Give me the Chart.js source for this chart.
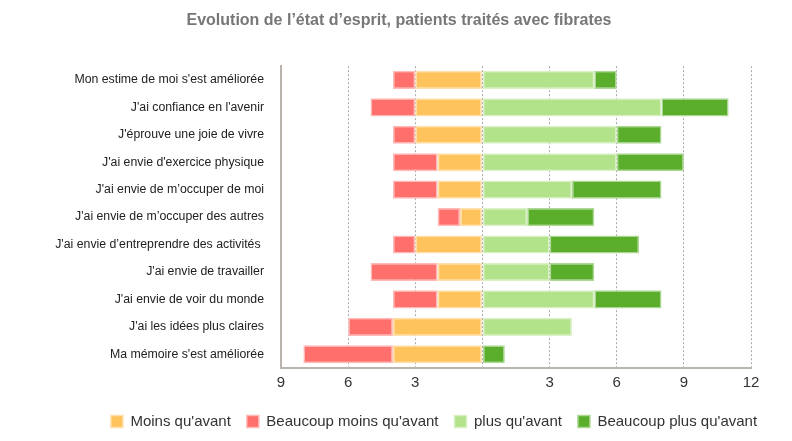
<!DOCTYPE html>
<html>
<head>
<meta charset="utf-8">
<script src="https://cdn.jsdelivr.net/npm/chart.js@4.4.1/dist/chart.umd.min.js"></script>
<style>
  html, body { margin: 0; padding: 0; background: #fff; }
  #wrap { width: 792px; height: 441px; }
</style>
</head>
<body>
<div id="wrap"><canvas id="moodChart" width="792" height="441"></canvas></div>
<script>
// Categories (top to bottom)
const labels = [
    "Mon estime de moi s'est améliorée",
    "J'ai confiance en l'avenir",
    "J'éprouve une joie de vivre",
    "J'ai envie d'exercice physique",
    "J'ai envie de m’occuper de moi",
    "J'ai envie de m’occuper des autres",
    "J'ai envie d’entreprendre des activités ",
    "J'ai envie de travailler",
    "J'ai envie de voir du monde",
    "J'ai les idées plus claires",
    "Ma mémoire s'est améliorée"
];

// Number of patients per answer (negative side drawn to the left)
const moinsQuAvant = [-3, -3, -3, -2, -2, -1, -3, -2, -2, -4, -4];
const beaucoupMoins = [-1, -2, -1, -2, -2, -1, -1, -3, -2, -2, -4];
const plusQuAvant = [5, 8, 6, 6, 4, 2, 3, 3, 5, 4, 0];
const beaucoupPlus = [1, 3, 2, 3, 4, 3, 4, 2, 3, 0, 1];

// x axis
const xMin = -9;
const xMax = 12;
const xStep = 3;

document.addEventListener("DOMContentLoaded", function () {
    if (typeof Chart === "undefined") {
        console.error("Chart.js is not loaded!");
        return;
    }

    const ctx = document.getElementById("moodChart").getContext("2d");
    const font = "'Liberation Sans', Arial, Helvetica, sans-serif";

    function series(label, data, color, border) {
        return {
            label: label,
            data: data,
            backgroundColor: color,
            borderColor: border,
            borderWidth: 1.5,
            borderSkipped: false,
            barPercentage: 0.66,
            categoryPercentage: 1.0
        };
    }

    // the legend sits a bit right of centre in the original
    const shiftLegend = {
        id: "shiftLegend",
        afterLayout: function (chart) {
            chart.legend.left += 35;
            chart.legend.right += 35;
        }
    };

    new Chart(ctx, {
        type: "bar",
        data: {
            labels: labels,
            datasets: [
                series("Moins qu'avant", moinsQuAvant, "#ffc35e", "#ffe0ab"),
                series("Beaucoup moins qu'avant", beaucoupMoins, "#ff6f6b", "#ffb9b6"),
                series("plus qu'avant", plusQuAvant, "#b2e28a", "#d9f1c5"),
                series("Beaucoup plus qu'avant", beaucoupPlus, "#5aae2b", "#acd795")
            ]
        },
        plugins: [shiftLegend],
        options: {
            indexAxis: "y",
            responsive: false,
            animation: false,
            layout: {
                padding: { left: 47, right: 41, top: 0, bottom: 2 }
            },
            scales: {
                x: {
                    stacked: true,
                    min: xMin,
                    max: xMax,
                    ticks: {
                        stepSize: xStep,
                        padding: 6,
                        color: "#333",
                        font: { family: font, size: 15 },
                        callback: function (v) { return v === 0 ? "" : Math.abs(v); }
                    },
                    grid: {
                        color: "#aaa",
                        lineWidth: 1,
                        drawTicks: false
                    },
                    border: { display: true, color: "#bab4ae", width: 2, dash: [2, 2] }
                },
                y: {
                    stacked: true,
                    afterFit: function (scale) { scale.width = 234; },
                    ticks: {
                        padding: 17,
                        color: "#222",
                        font: { family: font, size: 12.3 }
                    },
                    grid: { display: false, drawTicks: false },
                    border: { display: true, color: "#bab4ae", width: 2 }
                }
            },
            plugins: {
                title: {
                    display: true,
                    text: "Evolution de l’état d’esprit, patients traités avec fibrates",
                    color: "#777",
                    font: { family: font, size: 16, weight: "bold" },
                    padding: { top: 11, bottom: 36 }
                },
                legend: {
                    display: true,
                    position: "bottom",
                    labels: {
                        color: "#333",
                        font: { family: font, size: 15 },
                        boxWidth: 12,
                        boxHeight: 12,
                        padding: 16
                    }
                },
                tooltip: {
                    callbacks: {
                        label: function (c) { return c.dataset.label + ": " + Math.abs(c.raw); }
                    }
                }
            }
        }
    });
});
</script>
</body>
</html>
